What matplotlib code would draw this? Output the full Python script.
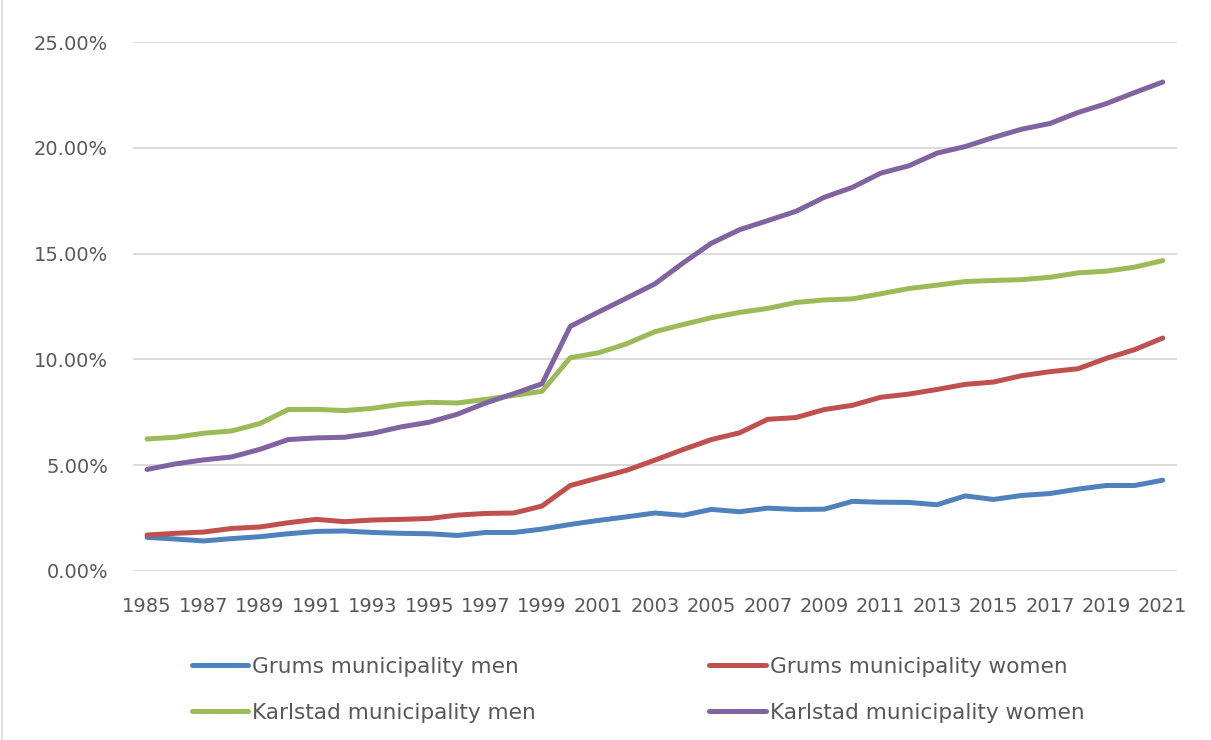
import matplotlib.pyplot as plt
from matplotlib.lines import Line2D

years = list(range(1985, 2022))

grums_men = [1.59, 1.51, 1.42, 1.53, 1.62, 1.76, 1.87, 1.89, 1.82, 1.78,
             1.76, 1.68, 1.82, 1.82, 1.98, 2.20, 2.39, 2.56, 2.74, 2.63,
             2.91, 2.80, 2.97, 2.91, 2.92, 3.29, 3.25, 3.24, 3.13, 3.55,
             3.38, 3.57, 3.66, 3.87, 4.04, 4.04, 4.29]
grums_women = [1.70, 1.78, 1.84, 2.01, 2.08, 2.28, 2.44, 2.33, 2.41, 2.44,
               2.48, 2.64, 2.72, 2.74, 3.07, 4.04, 4.40, 4.76, 5.24, 5.74,
               6.21, 6.53, 7.17, 7.25, 7.63, 7.83, 8.21, 8.36, 8.58, 8.82,
               8.93, 9.23, 9.42, 9.56, 10.05, 10.46, 11.01]
karlstad_men = [6.24, 6.32, 6.51, 6.62, 6.97, 7.63, 7.64, 7.58, 7.69, 7.88,
                7.97, 7.94, 8.11, 8.30, 8.49, 10.08, 10.31, 10.74, 11.31, 11.65,
                11.97, 12.22, 12.41, 12.69, 12.81, 12.86, 13.10, 13.35, 13.51, 13.68,
                13.73, 13.77, 13.88, 14.09, 14.17, 14.36, 14.67]
karlstad_women = [4.80, 5.06, 5.25, 5.39, 5.75, 6.21, 6.29, 6.32, 6.51, 6.81,
                  7.03, 7.41, 7.94, 8.38, 8.85, 11.56, 12.24, 12.90, 13.57, 14.56,
                  15.49, 16.13, 16.56, 17.00, 17.66, 18.13, 18.80, 19.15, 19.75, 20.06,
                  20.49, 20.88, 21.15, 21.67, 22.09, 22.61, 23.11]

series = [
    ("Grums municipality men", grums_men, "#4F81BD"),
    ("Grums municipality women", grums_women, "#C0504D"),
    ("Karlstad municipality men", karlstad_men, "#9BBB59"),
    ("Karlstad municipality women", karlstad_women, "#8064A2"),
]

text_color = "#595959"
grid_color = "#D9D9D9"

fig = plt.figure(figsize=(12.11, 7.40), dpi=100)
ax = fig.add_axes([0.1098, 0.2284, 0.862, 0.7148])

handles = []
for name, vals, col in series:
    h, = ax.plot(years, vals, color=col, linewidth=3.6, solid_capstyle="round",
                 solid_joinstyle="round", label=name)
    handles.append(h)

ax.set_xlim(1984.5, 2021.5)
ax.set_ylim(0, 25)
ax.set_yticks([0, 5, 10, 15, 20, 25])
ax.set_yticklabels([f"{v:.2f}%" for v in [0, 5, 10, 15, 20, 25]])
ax.set_xticks(years[::2])
ax.set_xticklabels([str(y) for y in years[::2]])
ax.tick_params(axis="both", length=0, labelsize=14, colors=text_color)
ax.tick_params(axis="x", pad=19)
ax.tick_params(axis="y", pad=18)
ax.grid(axis="y", color=grid_color, linewidth=1.3)
ax.set_axisbelow(True)
for s in ax.spines.values():
    s.set_visible(False)

# legend: two columns, row 1 = Grums, row 2 = Karlstad
order = [handles[0], handles[2], handles[1], handles[3]]
fig.legend(order, [h.get_label() for h in order], ncol=2, frameon=False,
           loc="center", bbox_to_anchor=(0.527, 0.068), fontsize=15.6,
           labelcolor=text_color, handlelength=2.6, handletextpad=0.2,
           columnspacing=8.0, labelspacing=1.2)

# chart area border on the left
fig.add_artist(Line2D([0.002, 0.002], [0, 1], transform=fig.transFigure,
                      color=grid_color, linewidth=1.2))

fig.savefig("out.png", dpi=100)
